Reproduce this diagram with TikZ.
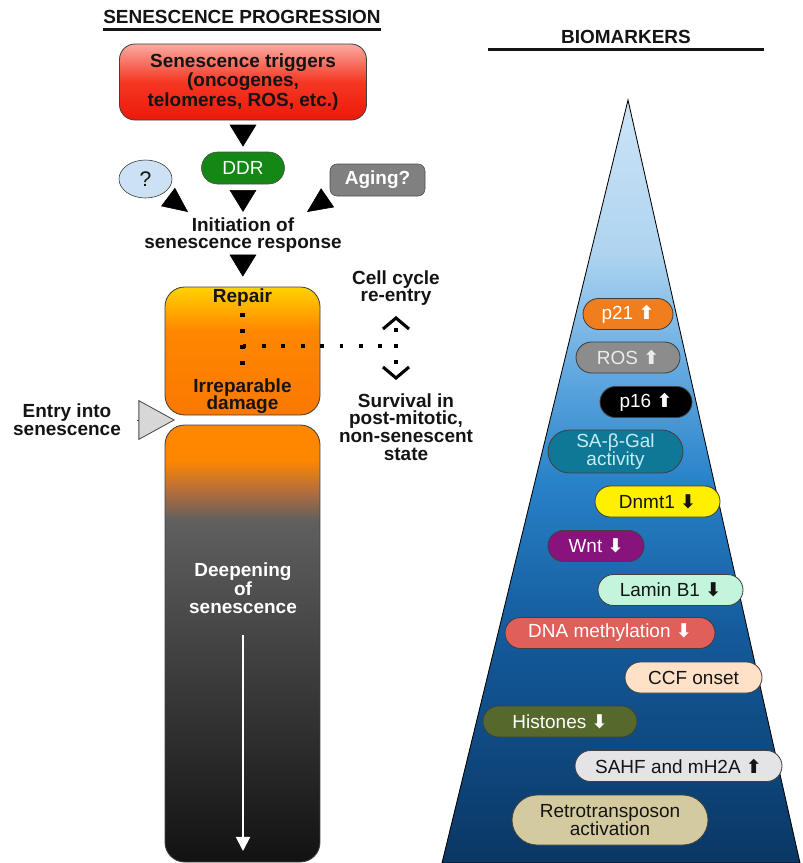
\documentclass[tikz,border=0pt]{standalone}
\usepackage{fontspec}
\setmainfont{Liberation Sans}
\newfontfamily\arrfont{DejaVu Sans}
\usepackage{tikz}
\usetikzlibrary{shapes.geometric,shapes.misc,arrows.meta,calc}
\definecolor{TxtDark}{RGB}{20,20,20}
\definecolor{TrigTop}{RGB}{250,170,160}
\definecolor{TrigMid}{RGB}{245,55,35}
\definecolor{TrigBot}{RGB}{235,25,10}
\definecolor{DdrFill}{RGB}{20,135,20}
\definecolor{QFill}  {RGB}{205,225,245}
\definecolor{AgeFill}{RGB}{128,128,128}
\definecolor{RepTop} {RGB}{255,210,0}
\definecolor{RepMid} {RGB}{255,135,0}
\definecolor{RepBot} {RGB}{250,120,0}
\definecolor{DeepBrn}{RGB}{180,110,60}
\definecolor{DeepGry}{RGB}{95,95,95}
\definecolor{DeepBot}{RGB}{18,18,18}
\definecolor{EntFill}{RGB}{215,215,215}
\definecolor{BioA}{RGB}{205,228,247}
\definecolor{BioB}{RGB}{175,212,240}
\definecolor{BioC}{RGB}{100,170,225}
\definecolor{BioD}{RGB}{40,130,200}
\definecolor{BioE}{RGB}{20,90,155}
\definecolor{BioF}{RGB}{10,55,100}
\definecolor{PilP21} {RGB}{240,125,30}
\definecolor{PilROS} {RGB}{140,140,140}
\definecolor{PilGal} {RGB}{15,120,150}
\definecolor{PilGalT}{RGB}{200,235,245}
\definecolor{PilDnm} {RGB}{255,240,0}
\definecolor{PilWnt} {RGB}{135,20,125}
\definecolor{PilLam} {RGB}{195,245,220}
\definecolor{PilDNA} {RGB}{225,95,90}
\definecolor{PilCCF} {RGB}{255,225,200}
\definecolor{PilHis} {RGB}{85,105,45}
\definecolor{PilSAH} {RGB}{228,228,230}
\definecolor{PilRet} {RGB}{212,202,160}
\pgfdeclareverticalshading{shTrig}{100bp}{color(0bp)=(TrigBot); color(25bp)=(TrigBot); color(50bp)=(TrigMid); color(75bp)=(TrigTop); color(100bp)=(TrigTop)}
\pgfdeclareverticalshading{shRep}{100bp}{color(0bp)=(RepBot); color(25bp)=(RepBot); color(58bp)=(RepMid); color(75bp)=(RepTop); color(100bp)=(RepTop)}
\pgfdeclareverticalshading{shDeep}{100bp}{color(0bp)=(DeepBot); color(25bp)=(DeepBot); color(64bp)=(DeepGry); color(67.5bp)=(DeepBrn); color(71bp)=(RepMid); color(100bp)=(RepMid)}
\pgfdeclareverticalshading{shBio}{100bp}{color(0bp)=(BioF); color(25bp)=(BioF); color(40bp)=(BioE); color(50bp)=(BioD); color(57.5bp)=(BioC); color(65bp)=(BioB); color(75bp)=(BioA); color(100bp)=(BioA)}
\def\pxu{0.025cm}
\newcommand{\upar}{{\arrfont\bfseries ⬆}}
\newcommand{\dnar}{{\arrfont\bfseries ⬇}}
\tikzset{
  nd_hdr/.style={font=\fontsize{13.5}{14}\selectfont\bfseries,inner sep=0pt,text=TxtDark},
  nd_lbl/.style={font=\fontsize{13.5}{12.6}\selectfont\bfseries,align=center,inner sep=0pt,text=TxtDark},
  nd_box/.style={rectangle,rounded corners=11pt,draw=black!75,line width=0.6pt,font=\fontsize{13.5}{12.6}\selectfont\bfseries,align=center,text=TxtDark},
  nd_ddr/.style={rounded rectangle,draw=black!70,fill=DdrFill,text=white,minimum width=83*\pxu,minimum height=32*\pxu,inner sep=0pt,font=\fontsize{13.5}{14}\selectfont},
  nd_q/.style={ellipse,draw=black!80,fill=QFill,minimum width=53*\pxu,minimum height=38*\pxu,inner sep=0pt,font=\fontsize{15}{15}\selectfont,text=TxtDark},
  nd_age/.style={rectangle,rounded corners=5pt,draw=black!70,fill=AgeFill,text=white,minimum width=95*\pxu,minimum height=32*\pxu,inner sep=0pt,font=\fontsize{13.5}{14}\selectfont\bfseries},
  nd_pill/.style={rounded rectangle,draw=black!75,line width=0.6pt,font=\fontsize{13.5}{12.6}\selectfont,align=center,inner sep=0pt,minimum height=31*\pxu},
  arr_tri/.style={line width=0.4pt,-{Triangle[length=15.6pt,width=19pt]}},
  arr_side/.style={line width=0.4pt,-{Triangle[length=17.8pt,width=16.3pt]}},
  arr_ent/.style={draw=black!70,line width=0.6pt,-{Triangle[length=26pt,width=28.4pt,fill=EntFill]}},
  arr_wht/.style={white,line width=1.4pt,-{Triangle[length=10pt,width=10pt]}},
  uline/.style={line width=2.1pt,TxtDark},
  dots/.style={line width=3pt,dash pattern=on 2.8pt off 11pt},
  vdots/.style={line width=3pt,dash pattern=on 2.8pt off 8.6pt},
  chev/.style={line width=2.2pt,line join=miter},
}

\begin{document}
\begin{tikzpicture}[x=0.025cm,y=-0.025cm]
\useasboundingbox (0,0) rectangle (803,863);
% headings
\node[nd_hdr] (hPro) at (242,17) {SENESCENCE PROGRESSION};
\draw[uline] ([yshift=-3.6pt]hPro.south west) -- ([yshift=-3.6pt]hPro.south east);
\node[nd_hdr,minimum width=275*\pxu] (hBio) at (626,37) {BIOMARKERS};
\draw[uline] ([yshift=-3.6pt]hBio.south west) -- ([yshift=-3.6pt]hBio.south east);
% biomarker wedge
\shade[shading=shBio,draw=black,line width=0.6pt] (628,100) -- (800,863) -- (442,863) -- cycle;
% progression
\node[nd_box,shading=shTrig,minimum width=247*\pxu,minimum height=76*\pxu] (trig) at (243,82) {Senescence triggers\\(oncogenes,\\telomeres, ROS, etc.)};
\node[nd_ddr] (ddr) at (243,168) {DDR};
\node[nd_q] (ques) at (145.5,179) {?};
\node[nd_age] (aging) at (377.5,180) {Aging?};
\node[nd_lbl,anchor=north] (init) at (243,217) {Initiation of\\senescence response};
\coordinate (qtip) at (188,212);
\coordinate (atip) at (307,212);
\node[nd_box,shading=shRep,minimum width=155*\pxu,minimum height=128*\pxu,rounded corners=14pt] (rbox) at (242.5,351) {};
\node[nd_lbl] (rep) at (242.5,298) {Repair};
\node[nd_lbl] (irr) at (242.5,396) {Irreparable\\damage};
\node[nd_box,shading=shDeep,minimum width=155*\pxu,minimum height=437*\pxu,rounded corners=14pt] (dbox) at (242.5,643.5) {};
\node[nd_lbl,text=white] (deep) at (243,588) {Deepening\\of\\senescence};
\coordinate (dend) at (243,851);
\node[nd_lbl] (entry) at (67,420) {Entry into\\senescence};
\coordinate (ent) at (175,420);
\node[nd_lbl] (cyc) at (396,288) {Cell cycle\\re-entry};
\node[nd_lbl] (surv) at (406,427) {Survival in\\post-mitotic,\\non-senescent\\state};
\coordinate (jx) at (242.5,346);
\coordinate (jr) at (396,346);
\coordinate (cu) at (396,318);
\coordinate (cd) at (396,378);
% markers
\node[nd_pill,fill=PilP21,text=white,minimum width=90*\pxu] (p21) at (628,314) {p21 \upar};
\node[nd_pill,fill=PilROS,text=white!92!black,minimum width=104*\pxu] (ros) at (628,357.5) {ROS \upar};
\node[nd_pill,fill=black,text=white,minimum width=92*\pxu] (p16) at (646,402) {p16 \upar};
\node[nd_pill,fill=PilGal,text=PilGalT,minimum width=135*\pxu,minimum height=43*\pxu] (gal) at (615.5,451.5) {SA-β-Gal\\activity};
\node[nd_pill,fill=PilDnm,text=TxtDark,minimum width=125*\pxu] (dnmt) at (657.5,501.5) {Dnmt1 \dnar};
\node[nd_pill,fill=PilWnt,text=white,minimum width=96*\pxu] (wnt) at (596,546) {Wnt \dnar};
\node[nd_pill,fill=PilLam,text=TxtDark,minimum width=145*\pxu] (lam) at (670.5,590) {Lamin B1 \dnar};
\node[nd_pill,fill=PilDNA,text=white,minimum width=210*\pxu] (dna) at (610,633) {DNA methylation \dnar};
\node[nd_pill,fill=PilCCF,text=TxtDark,minimum width=137*\pxu] (ccf) at (693.5,677.5) {CCF onset};
\node[nd_pill,fill=PilHis,text=white,minimum width=154*\pxu] (his) at (560,721.5) {Histones \dnar};
\node[nd_pill,fill=PilSAH,text=TxtDark,minimum width=207*\pxu] (sahf) at (678.5,766) {SAHF and mH2A \upar};
\node[nd_pill,fill=PilRet,text=TxtDark,minimum width=196*\pxu,minimum height=50*\pxu] (retro) at (610,820) {Retrotransposon\\activation};
% arrows
\draw[arr_tri,shorten <=3.6pt,shorten >=3.6pt](trig)--(ddr);
\draw[arr_tri,shorten <=4.3pt,shorten >=3.6pt](ddr)--(init);
\draw[arr_side,shorten <=4.5pt](ques.-39)--(qtip);
\draw[arr_side,shorten <=2.1pt](aging.south west)--(atip);
\draw[arr_tri,shorten <=1.4pt,shorten >=7.1pt](init)--(rbox);
\draw[arr_ent,shorten <=11pt](entry)--(ent);
\draw[arr_wht,shorten <=15pt](deep)--(dend);
\draw[vdots,shorten <=4.3pt,shorten >=0.7pt](rep)--(irr);
\draw[dots](jx)--(jr);
\draw[vdots,shorten <=7.1pt,shorten >=9.2pt](cu)--(cd);
\draw[chev]($(cu)+(-13,11)$)--(cu)--($(cu)+(13,11)$);
\draw[chev]($(cd)+(-13,-11)$)--(cd)--($(cd)+(13,-11)$);
\end{tikzpicture}
\end{document}
